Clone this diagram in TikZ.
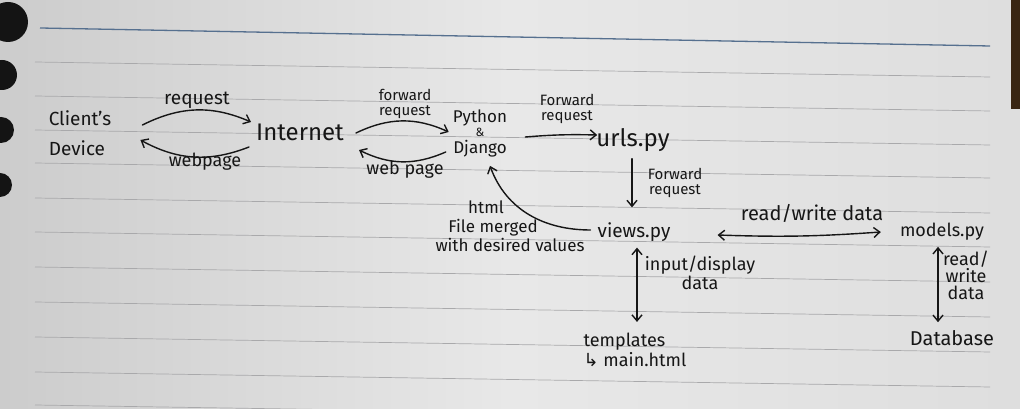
\documentclass[tikz,border=0pt]{standalone}
\usepackage{fontspec}
\setmainfont{Fira Sans}
\newfontfamily\symfont{DejaVu Sans}
\usetikzlibrary{arrows.meta}
\definecolor{ink}{HTML}{161616}
\definecolor{rule}{HTML}{A9A9AB}
\definecolor{margin}{HTML}{56708F}
\begin{document}
\begin{tikzpicture}[x=1pt,y=1pt,
 every node/.style={text=ink, inner sep=1pt},
 big/.style={font=\fontsize{19}{30}\selectfont, align=left},
 lbl/.style={font=\fontsize{18}{15}\selectfont, align=center},
 sml/.style={font=\fontsize{15}{15}\selectfont, align=center},
 arr/.style={draw=ink, line width=1.4pt, line cap=round, -{Straight Barb[length=6pt,width=10pt]}},
 darr/.style={draw=ink, line width=1.4pt, line cap=round, {Straight Barb[length=6pt,width=10pt]}-{Straight Barb[length=6pt,width=10pt]}},
 ruled/.style={draw=rule, line width=0.7pt},
 hole/.style={fill=black!92}
]
\useasboundingbox (0,0) rectangle (1020,409);
% paper
\shade[left color=black!20, right color=black!13, middle color=black!9] (0,0) rectangle (1020,409);
\fill[black!70!brown] (1011,300) rectangle (1020,409);
\foreach \yl in {347,313,279,246,211,177,142,107,72,37,4}
  \draw[ruled] (35,\yl) -- (990,\yl-15);
\draw[draw=margin, line width=1.3pt] (40,381) -- (990,363);
\fill[hole] (8,387) circle (20);
\fill[hole] (2,334) circle (15);
\fill[hole] (1,279) circle (13);
\fill[hole] (0,224) circle (12);

% nodes
\node[big] (client) at (80,276) {Client's\\Device};
\node[font=\fontsize{24}{24}\selectfont] (internet) at (300,277) {Internet};
\node[font=\fontsize{17}{17}\selectfont, align=center] (pd) at (480,276) {Python\\[-3pt]{\fontsize{12}{12}\selectfont\&}\\[0pt]Django};
\node[font=\fontsize{24}{24}\selectfont] (urls) at (633,269) {urls.py};
\node[big] (views) at (634,177) {views.py};
\node[font=\fontsize{18}{18}\selectfont] (models) at (942,177) {models.py};
\node[font=\fontsize{18}{20}\selectfont, align=left] (tmpl) at (635,59) {templates\\{\symfont ↳} main.html};
\node[font=\fontsize{20}{20}\selectfont] (db) at (952,71) {Database};

% labels
\node[lbl, font=\fontsize{19}{19}\selectfont] (lreq) at (197,309) {request};
\node[lbl] (lweb) at (205,247) {webpage};
\node[sml] (lfwd1) at (405,305) {forward\\request};
\node[lbl] (lweb2) at (405,239) {web page};
\node[sml] (lfwd2) at (567,300) {Forward\\request};
\node[sml] (lfwd3) at (675,226) {Forward\\request};
\node[lbl, font=\fontsize{17}{19}\selectfont] (lhtml) at (510,183) {html\kern 48pt\\File merged\kern 34pt\\with desired values};
\node[lbl, font=\fontsize{20}{20}\selectfont] (lrw) at (812,196) {read/write data};
\node[lbl, font=\fontsize{18}{17}\selectfont] (lin) at (700,136) {input/display\\data};
\node[lbl, font=\fontsize{18}{17}\selectfont] (lrw2) at (966,134) {read/\\write\\data};

% connectors
\draw[arr] ([shift={(30,8)}]client.east) to[bend left=25] ([shift={(-4,10)}]internet.west);
\draw[arr] ([shift={(-6,-15)}]internet.west) to[bend left=25] ([shift={(28,-7)}]client.east);
\draw[arr] ([shift={(11,-1)}]internet.east) to[bend left=25] ([shift={(-3,1)}]pd.west);
\draw[arr] ([shift={(-6,-19)}]pd.west) to[bend left=25] ([shift={(14,-18)}]internet.east);
\draw[arr] ([shift={(17,-4)}]pd.east) to[bend left=3] ([shift={(2,5)}]urls.west);
\draw[arr] ([shift={(-1,-6)}]urls.south) -- ([shift={(-2,14)}]views.north);
\draw[arr] ([shift={(-6,2)}]views.west) to[out=180,in=-70] ([shift={(10,-8)}]pd.south);
\draw[darr] ([shift={(46,-3)}]views.east) to[bend right=3] ([shift={(-18,0)}]models.west);
\draw[darr] ([shift={(3,-5)}]views.south) -- ([shift={(2,10)}]tmpl.north);
\draw[darr] ([shift={(-4,-5)}]models.south) -- ([shift={(-14,7)}]db.north);
\end{tikzpicture}
\end{document}
